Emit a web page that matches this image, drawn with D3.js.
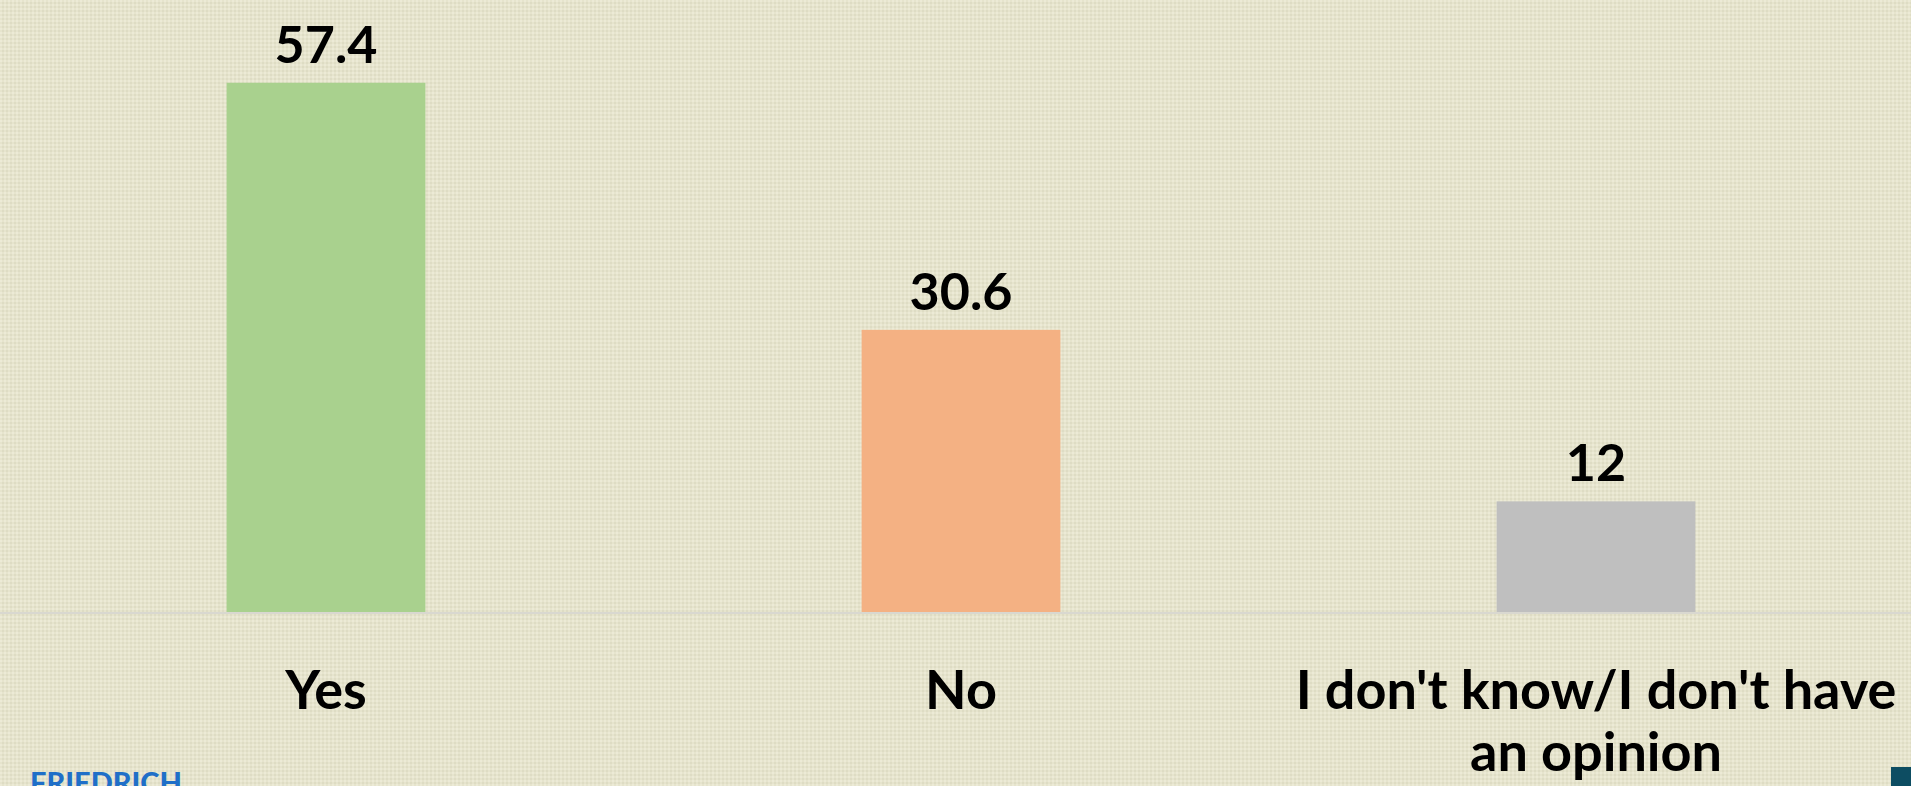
<!DOCTYPE html>
<html>
<head>
<meta charset="utf-8">
<script src="https://cdn.jsdelivr.net/npm/d3@7"></script>
<style>
    html, body { margin: 0; padding: 0; background: #e6e4cd; overflow: hidden; }
    svg { display: block; }
</style>
</head>
<body>
<div id="chart"></div>
<script>
(function () {
    'use strict';

    var categories = ["Yes", "No", "I don't know/I don't have an opinion"];
    var values = [57.4, 30.6, 12];
    var colours = ["#a9d18e", "#f4b183", "#bfbfbf"];

    var width = 1911;
    var height = 786;
    var baseY = 612;
    var font = "Lato, 'Open Sans', sans-serif";

    var svg = d3.select("#chart").append("svg")
        .attr("width", width)
        .attr("height", height);

    // canvas-like background texture
    var defs = svg.append("defs");
    var pat = defs.append("pattern")
        .attr("id", "weave")
        .attr("width", 4)
        .attr("height", 4)
        .attr("patternUnits", "userSpaceOnUse");
    pat.append("rect").attr("width", 4).attr("height", 4).attr("fill", "#e6e4cd");
    pat.append("rect").attr("x", 0).attr("y", 0).attr("width", 2).attr("height", 2).attr("fill", "#ecead6");
    pat.append("rect").attr("x", 2).attr("y", 2).attr("width", 2).attr("height", 2).attr("fill", "#dedcc4");

    svg.append("rect")
        .attr("width", width)
        .attr("height", height)
        .attr("fill", "url(#weave)");

    var x = d3.scaleBand()
        .domain(categories)
        .range([8.5, 1913.5])
        .paddingInner(0.687)
        .paddingOuter(0.3435);

    var y = d3.scaleLinear()
        .domain([0, 60])
        .range([baseY, baseY - 553.2]);

    svg.append("g")
        .attr("class", "bars")
        .selectAll("rect")
        .data(values)
        .enter()
        .append("rect")
        .attr("x", function (d, i) { return x(categories[i]); })
        .attr("width", x.bandwidth())
        .attr("y", function (d) { return y(d); })
        .attr("height", function (d) { return y(0) - y(d); })
        .attr("fill", function (d, i) { return colours[i]; });

    // baseline
    svg.append("line")
        .attr("x1", 0)
        .attr("x2", width)
        .attr("y1", baseY + 1)
        .attr("y2", baseY + 1)
        .attr("stroke", "#d9d8d0")
        .attr("stroke-width", 2);

    svg.append("g")
        .attr("class", "values")
        .selectAll("text")
        .data(values)
        .enter()
        .append("text")
        .attr("x", function (d, i) { return x(categories[i]) + x.bandwidth() / 2; })
        .attr("y", function (d) { return y(d) - 20; })
        .attr("text-anchor", "middle")
        .attr("font-family", font)
        .attr("font-weight", 700)
        .attr("font-size", 52)
        .attr("fill", "#000")
        .text(function (d) { return d; });

    var xAxis = d3.axisBottom(x).tickSize(0).tickPadding(0);
    var axisG = svg.append("g")
        .attr("transform", "translate(0," + baseY + ")")
        .call(xAxis);
    axisG.select(".domain").remove();
    axisG.selectAll("text")
        .attr("font-family", font)
        .attr("font-weight", 700)
        .attr("font-size", 54)
        .attr("fill", "#000")
        .attr("dy", null)
        .attr("y", 97)
        .call(wrap, 640);

    function wrap(texts, maxWidth) {
        texts.each(function () {
            var text = d3.select(this);
            var words = text.text().split(/\s+/);
            var yy = text.attr("y");
            var line = [];
            var lineNo = 0;
            text.text(null);
            var tspan = text.append("tspan").attr("x", 0).attr("y", yy);
            words.forEach(function (w) {
                line.push(w);
                tspan.text(line.join(" "));
                if (tspan.node().getComputedTextLength() > maxWidth && line.length > 1) {
                    line.pop();
                    tspan.text(line.join(" "));
                    line = [w];
                    lineNo++;
                    tspan = text.append("tspan")
                        .attr("x", 0)
                        .attr("y", +yy + lineNo * 62)
                        .text(w);
                }
            });
        });
    }

    // logo fragments at the bottom corners
    svg.append("text")
        .attr("x", 30)
        .attr("y", 793)
        .attr("font-family", font)
        .attr("font-weight", 900)
        .attr("font-size", 29)
        .attr("fill", "#1f6fc8")
        .text("FRIEDRICH");

    svg.append("rect")
        .attr("x", 1891)
        .attr("y", 767)
        .attr("width", 20)
        .attr("height", 19)
        .attr("fill", "#0d4d62");
})();
</script>
</body>
</html>
